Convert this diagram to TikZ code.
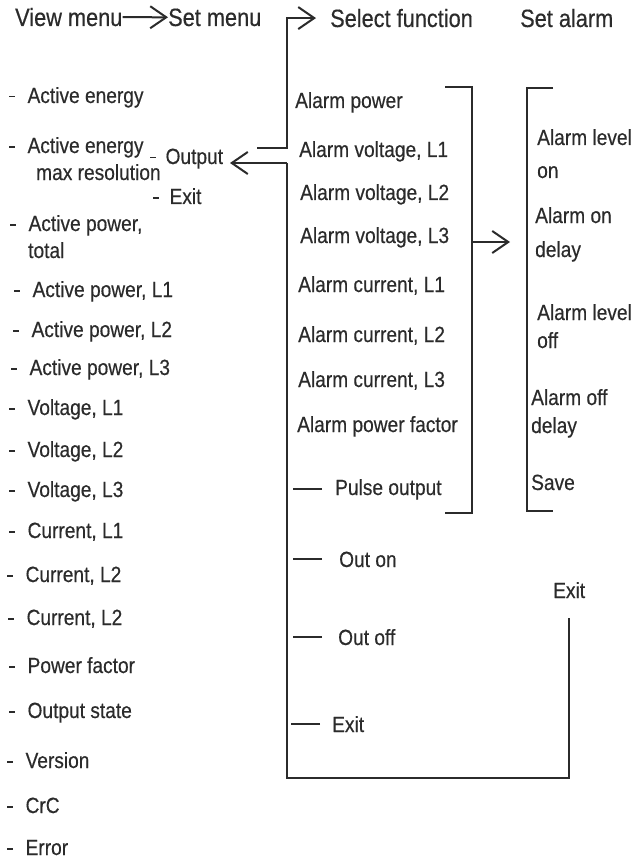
\documentclass[tikz,border=0pt]{standalone}
\usepackage{fontspec}
\setmainfont[FakeStretch=0.87,FakeBold=0.4]{Liberation Sans}
\usetikzlibrary{arrows.meta,positioning}
\definecolor{ink}{HTML}{2B2B2B}
\newcommand{\dsh}{\hspace{1pt}\rule[5.5pt]{6pt}{1.8pt}}
\newcommand{\itm}[1]{\dsh\hspace{12.4pt}#1}

\begin{document}
\begin{tikzpicture}[x=1pt,y=-1pt,color=ink,
 head/.style={font=\fontsize{25}{30}\selectfont,anchor=base west,inner sep=0pt},
 txt/.style={font=\fontsize{22}{27}\selectfont,anchor=base west,inner sep=0pt,align=left},
 ln/.style={line width=2pt},
 arr/.style={ln,-{Straight Barb[length=16pt,width=22pt]}}]
\useasboundingbox (0,0) rectangle (632,861);
% headings
\node[head] (vm) at (15,26) {View menu};
\node[head] (sm) at (168,26) {Set menu};
\node[head] (sf) at (330,27) {Select function};
\node[head] (sa) at (520,27) {Set alarm};
\draw[arr] (vm)--(sm);
% view menu (multi-line items sit on their last line)
\node[txt] (v1) at (8,103) {\itm{Active energy}};
\node[txt] (v2) at (8,180) {\itm{Active energy}\\\hspace*{28pt}max resolution};
\node[txt] (v3) at (9,258) {\itm{Active power,}\\\hspace*{19pt}total};
\node[txt] (v4) at (13,297) {\itm{Active power, L1}};
\node[txt] (v5) at (12,337) {\itm{Active power, L2}};
\node[txt] (v6) at (10,375) {\itm{Active power, L3}};
\node[txt] (v7) at (8,415) {\itm{Voltage, L1}};
\node[txt] (v8) at (8,457) {\itm{Voltage, L2}};
\node[txt] (v9) at (8,497) {\itm{Voltage, L3}};
\node[txt] (v10) at (8,538) {\itm{Current, L1}};
\node[txt] (v11) at (6,582) {\itm{Current, L2}};
\node[txt] (v12) at (7,625) {\itm{Current, L2}};
\node[txt] (v13) at (8,673) {\itm{Power factor}};
\node[txt] (v14) at (8,718) {\itm{Output state}};
\node[txt] (v15) at (6,768) {\itm{Version}};
\node[txt] (v16) at (6,813) {\itm{CrC}};
\node[txt] (v17) at (6,855) {\itm{Error}};
% set menu
\node[txt] (out) at (149,164) {\dsh\hspace{9.4pt}Output};
\node[txt] (sx) at (152,204) {\dsh\hspace{10.4pt}Exit};
\coordinate (j1) at (257,148);
\coordinate (j2) at (287,148);
\coordinate (j3) at (287,163);
\coordinate (t2) at (230,163);
\draw[arr,shorten >=14pt] (j1)--(j2)|-(sf);
\draw[arr] (j3)--(t2);
% select function
\node[txt] (f1) at (295,108) {Alarm power};
\node[txt] (f2) at (299,157) {Alarm voltage, L1};
\node[txt] (f3) at (300,200) {Alarm voltage, L2};
\node[txt] (f4) at (300,243) {Alarm voltage, L3};
\node[txt] (f5) at (298,292) {Alarm current, L1};
\node[txt] (f6) at (298,342) {Alarm current, L2};
\node[txt] (f7) at (298,387) {Alarm current, L3};
\node[txt] (f8) at (297,432) {Alarm power factor};
\node[txt] (pl) at (335,495) {Pulse output};
\node[txt] (on) at (339,567) {Out on};
\node[txt] (of) at (338,645) {Out off};
\node[txt] (fx) at (332,732) {Exit};
\node[txt] (ax) at (553,598) {Exit};
\draw[ln] ([xshift=-13pt]pl.west)--++(-29,0);
\draw[ln] ([xshift=-17pt]on.west)--++(-29,0);
\draw[ln] ([xshift=-16pt]of.west)--++(-29,0);
\draw[ln] ([xshift=-12pt]fx.west)--++(-29,0);
\coordinate (lb) at (287,778);
\coordinate (rb) at (569,778);
\coordinate (re) at (569,618);
\draw[ln] (j3)--(lb)--(rb)--(re);
\draw[ln] (445,87)--(472,87)--(472,513)--(445,513);
\coordinate (b1) at (472,242);
\coordinate (b2) at (510,242);
\draw[arr] (b1)--(b2);
% set alarm
\draw[ln] (553,88)--(527,88)--(527,511)--(553,511);
\node[txt] (a1) at (537,178) {Alarm level\\[6pt]on};
\node[txt] (a2) at (535,257) {Alarm on\\[7pt]delay};
\node[txt] (a3) at (537,348) {Alarm level\\[1pt]off};
\node[txt] (a4) at (531,433) {Alarm off\\[1pt]delay};
\node[txt] (a5) at (531,490) {Save};
\end{tikzpicture}
\end{document}
